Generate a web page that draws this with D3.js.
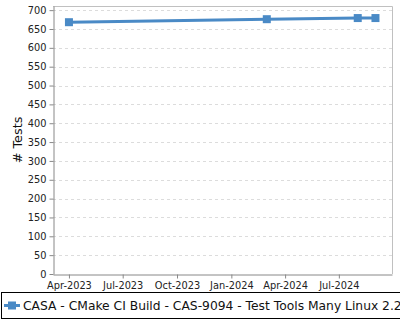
<!DOCTYPE html>
<html>
<head>
<meta charset="utf-8">
<script src="https://cdn.jsdelivr.net/npm/d3@7"></script>
<style>
  body { margin: 0; background: #fff; }
  svg { display: block; font-family: "DejaVu Sans", sans-serif; }
</style>
</head>
<body>
<div id="chart"></div>
<script>
const seriesName = 'CASA - CMake CI Build - CAS-9094 - Test Tools Many Linux 2.2';
const dates = ['2023-04-01', '2024-03-01', '2024-08-02', '2024-09-01'];
const tests = [668, 676, 679, 679];
const yTicks = [0, 50, 100, 150, 200, 250, 300, 350, 400, 450, 500, 550, 600, 650, 700];
const xTicks = ['2023-04-01', '2023-07-01', '2023-10-01', '2024-01-01', '2024-04-01', '2024-07-01'];

const width = 400, height = 320;
const plot = { left: 53, right: 392, top: 6, bottom: 274 };
const parse = d3.timeParse('%Y-%m-%d');
const data = dates.map(function(d, i) { return { date: parse(d), value: tests[i] }; });

const svg = d3.select('#chart').append('svg')
  .attr('width', width)
  .attr('height', height);

const x = d3.scaleTime()
  .domain([parse('2023-03-05'), parse('2024-09-29')])
  .range([plot.left, plot.right]);

const y = d3.scaleLinear()
  .domain([0, 711])
  .range([plot.bottom, plot.top]);

// grid
svg.append('g')
  .selectAll('line')
  .data(yTicks.slice(1))
  .enter().append('line')
    .attr('x1', plot.left).attr('x2', plot.right)
    .attr('y1', function(d) { return Math.round(y(d)) + 0.5; })
    .attr('y2', function(d) { return Math.round(y(d)) + 0.5; })
    .attr('stroke', '#dcdcdc')
    .attr('stroke-dasharray', '3,3');

// frame top/right
svg.append('path')
  .attr('d', 'M' + plot.left + ',' + (plot.top + 0.5) + 'H' + (plot.right + 0.5) + 'V' + plot.bottom)
  .attr('fill', 'none')
  .attr('stroke', '#c0c0c0');

// axes
const yAxis = svg.append('g')
  .attr('transform', 'translate(' + (plot.left + 0.5) + ',0)')
  .call(d3.axisLeft(y).tickValues(yTicks).tickSize(4).tickSizeOuter(0));
const xAxis = svg.append('g')
  .attr('transform', 'translate(0,' + (plot.bottom + 0.5) + ')')
  .call(d3.axisBottom(x).tickValues(xTicks.map(parse)).tickFormat(d3.timeFormat('%b-%Y')).tickSize(4).tickSizeOuter(0));

[yAxis, xAxis].forEach(function(a) {
  a.select('.domain').attr('stroke', '#888');
  a.selectAll('.tick line').attr('stroke', '#888');
  a.selectAll('.tick text').attr('fill', '#222').style('font-size', '9.8px').style('font-family', '"DejaVu Sans", sans-serif');
});
xAxis.selectAll('.tick text').attr('dy', '0.8em');

// y label
svg.append('text')
  .attr('transform', 'translate(22,140) rotate(-90)')
  .attr('text-anchor', 'middle')
  .style('font-size', '12.8px')
  .attr('fill', '#111')
  .text('# Tests');

// line
const color = '#4a8ac6';
svg.append('path')
  .datum(data)
  .attr('fill', 'none')
  .attr('stroke', color)
  .attr('stroke-width', 3)
  .attr('d', d3.line().x(function(d) { return x(d.date); }).y(function(d) { return y(d.value); }));

svg.selectAll('.pt')
  .data(data)
  .enter().append('rect')
    .attr('class', 'pt')
    .attr('x', function(d) { return x(d.date) - 4; })
    .attr('y', function(d) { return y(d.value) - 4; })
    .attr('width', 8).attr('height', 8)
    .attr('fill', color);

// legend
const lg = svg.append('g');
lg.append('rect')
  .attr('x', 1.5).attr('y', 292.5)
  .attr('width', 410).attr('height', 26)
  .attr('fill', '#fff').attr('stroke', '#000');
lg.append('line')
  .attr('x1', 4).attr('x2', 20).attr('y1', 305.5).attr('y2', 305.5)
  .attr('stroke', color).attr('stroke-width', 3);
lg.append('rect')
  .attr('x', 8).attr('y', 301.5).attr('width', 8).attr('height', 8)
  .attr('fill', color);
lg.append('text')
  .attr('x', 23).attr('y', 309.5)
  .style('font-size', '12.3px')
  .attr('fill', '#111')
  .text(seriesName);
</script>
</body>
</html>
